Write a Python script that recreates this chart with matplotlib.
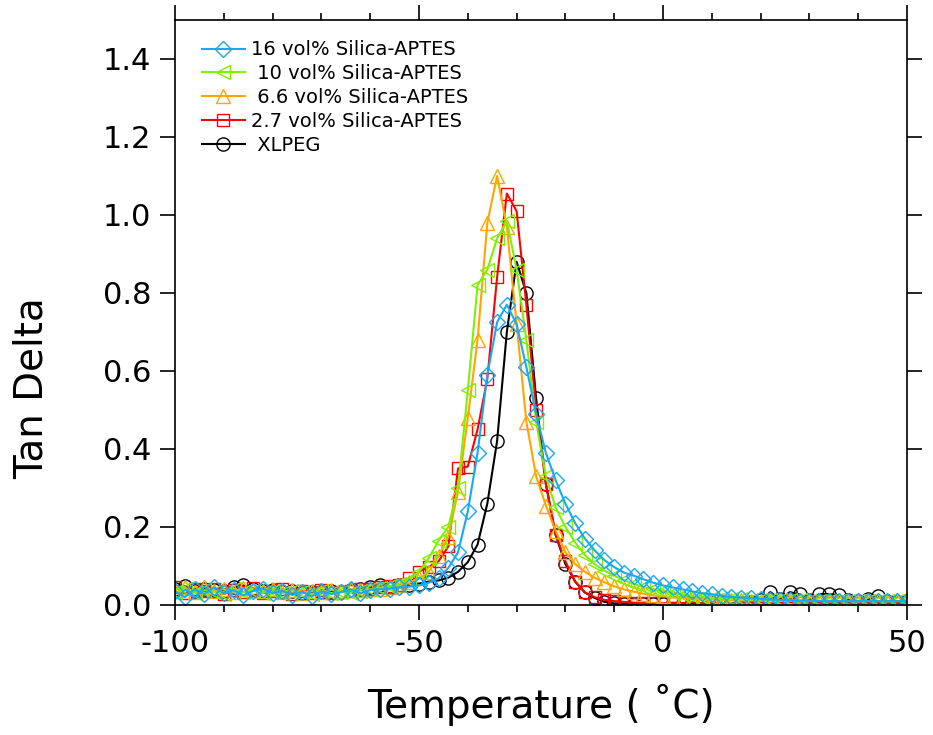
import matplotlib
matplotlib.use("Agg")
import matplotlib.pyplot as plt
from matplotlib.ticker import MultipleLocator

plt.rcParams['font.family'] = ['DejaVu Sans']
plt.rcParams['axes.unicode_minus'] = False

# temperature grid of the readings (deg C)
temps = list(range(-100, 52, 2))

xlpeg = [
    0.040, 0.048, 0.036, 0.042, 0.038, 0.035, 0.045, 0.050, 0.040, 0.036,
    0.038, 0.033, 0.036, 0.030, 0.034, 0.032, 0.036, 0.033, 0.038, 0.042,
    0.046, 0.050, 0.047, 0.050, 0.052, 0.055, 0.060, 0.063, 0.070, 0.085,
    0.110, 0.155, 0.260, 0.420, 0.700, 0.880, 0.800, 0.530, 0.310, 0.180,
    0.105, 0.060, 0.032, 0.018, 0.008, 0.004, 0.003, 0.002, 0.002, 0.002,
    0.003, 0.004, 0.003, 0.005, 0.004, 0.006, 0.004, 0.005, 0.006, 0.008,
    0.012, 0.033, 0.015, 0.033, 0.027, 0.012, 0.028, 0.028, 0.025, 0.012,
    0.010, 0.015, 0.022, 0.010, 0.008, 0.010,
]
v27 = [
    0.046, 0.030, 0.042, 0.035, 0.040, 0.028, 0.038, 0.033, 0.044, 0.030,
    0.036, 0.040, 0.029, 0.035, 0.031, 0.038, 0.030, 0.034, 0.037, 0.040,
    0.042, 0.045, 0.048, 0.050, 0.068, 0.085, 0.098, 0.112, 0.150, 0.350,
    0.355, 0.450, 0.580, 0.840, 1.055, 1.010, 0.770, 0.500, 0.310, 0.180,
    0.112, 0.060, 0.032, 0.020, 0.013, 0.010, 0.008, 0.006, 0.005, 0.005,
    0.004, 0.006, 0.005, 0.007, 0.004, 0.006, 0.005, 0.004, 0.006, 0.005,
    0.006, 0.004, 0.005, 0.007, 0.004, 0.005, 0.006, 0.004, 0.005, 0.006,
    0.004, 0.005, 0.006, 0.004, 0.005, 0.004,
]
v66 = [
    0.038, 0.045, 0.033, 0.046, 0.036, 0.041, 0.032, 0.044, 0.038, 0.035,
    0.042, 0.034, 0.038, 0.031, 0.037, 0.033, 0.039, 0.035, 0.040, 0.038,
    0.040, 0.042, 0.045, 0.050, 0.058, 0.068, 0.085, 0.125, 0.175, 0.290,
    0.480, 0.680, 0.980, 1.100, 0.970, 0.720, 0.470, 0.330, 0.255, 0.190,
    0.135, 0.105, 0.085, 0.070, 0.058, 0.048, 0.040, 0.034, 0.029, 0.025,
    0.022, 0.020, 0.018, 0.016, 0.015, 0.014, 0.013, 0.012, 0.012, 0.011,
    0.011, 0.011, 0.010, 0.011, 0.010, 0.010, 0.011, 0.010, 0.010, 0.010,
    0.010, 0.010, 0.010, 0.010, 0.010, 0.010,
]
v10 = [
    0.032, 0.040, 0.030, 0.038, 0.034, 0.029, 0.040, 0.033, 0.036, 0.031,
    0.037, 0.030, 0.035, 0.032, 0.028, 0.036, 0.031, 0.034, 0.030, 0.037,
    0.040, 0.044, 0.048, 0.055, 0.065, 0.085, 0.120, 0.165, 0.200, 0.300,
    0.550, 0.820, 0.860, 0.940, 0.985, 0.860, 0.680, 0.470, 0.330, 0.250,
    0.200, 0.160, 0.128, 0.105, 0.088, 0.075, 0.064, 0.054, 0.046, 0.040,
    0.035, 0.030, 0.026, 0.023, 0.021, 0.019, 0.017, 0.016, 0.015, 0.014,
    0.013, 0.013, 0.012, 0.012, 0.012, 0.011, 0.011, 0.011, 0.010, 0.010,
    0.010, 0.010, 0.010, 0.010, 0.010, 0.010,
]
v16 = [
    0.035, 0.020, 0.040, 0.028, 0.045, 0.030, 0.038, 0.025, 0.036, 0.042,
    0.030, 0.036, 0.026, 0.034, 0.022, 0.035, 0.028, 0.033, 0.040, 0.030,
    0.038, 0.040, 0.042, 0.045, 0.047, 0.050, 0.057, 0.068, 0.095, 0.135,
    0.240, 0.390, 0.590, 0.725, 0.770, 0.720, 0.610, 0.490, 0.390, 0.320,
    0.260, 0.210, 0.170, 0.140, 0.115, 0.097, 0.083, 0.075, 0.066, 0.057,
    0.050, 0.045, 0.040, 0.035, 0.030, 0.027, 0.024, 0.021, 0.019, 0.017,
    0.015, 0.014, 0.013, 0.012, 0.011, 0.011, 0.010, 0.010, 0.010, 0.010,
    0.010, 0.010, 0.010, 0.010, 0.010, 0.010,
]

series = [
    (xlpeg, ' XLPEG', 'black', 'o', 9.5),
    (v27, '2.7 vol% Silica-APTES', '#FF0000', 's', 9),
    (v66, ' 6.6 vol% Silica-APTES', '#FFA500', '^', 10.5),
    (v10, ' 10 vol% Silica-APTES', '#80F000', '<', 10.5),
    (v16, '16 vol% Silica-APTES', '#1AA8F5', 'D', 8.5),
]

fig = plt.figure(figsize=(9.33, 7.35), dpi=100)
ax = fig.add_axes([0.1876, 0.1769, 0.7845, 0.7959])

handles = []
for vals, label, color, marker, ms in series:
    h, = ax.plot(temps, vals, color=color, lw=1.5, marker=marker, ms=ms,
                 mfc='none', mec=color, mew=1.0, label=label)
    handles.append(h)

ax.set_xlim(-100, 50)
ax.set_ylim(0, 1.5)
ax.xaxis.set_major_locator(MultipleLocator(50))
ax.xaxis.set_minor_locator(MultipleLocator(10))
ax.set_yticks([0, 0.2, 0.4, 0.6, 0.8, 1.0, 1.2, 1.4])
ax.set_yticklabels(['0.0', '0.2', '0.4', '0.6', '0.8', '1.0', '1.2', '1.4'])

ax.tick_params(which='both', direction='out', top=True, right=True,
               labelsize=22, width=1.2)
ax.tick_params(which='major', length=11, pad=6)
ax.tick_params(which='minor', length=5)
for s in ax.spines.values():
    s.set_linewidth(1.2)

ax.set_xlabel('Temperature ( \u02daC)', fontsize=28)
ax.xaxis.set_label_coords(0.5, -0.135)
ax.set_ylabel('Tan Delta', fontsize=28)
ax.yaxis.set_label_coords(-0.17, 0.37)

ax.legend(handles[::-1], [h.get_label() for h in handles[::-1]],
          loc='upper left', frameon=False, fontsize=14, handlelength=2.2,
          handletextpad=0.3, labelspacing=0.25,
          bbox_to_anchor=(0.013, 0.995))

fig.savefig('out.png', dpi=100)
